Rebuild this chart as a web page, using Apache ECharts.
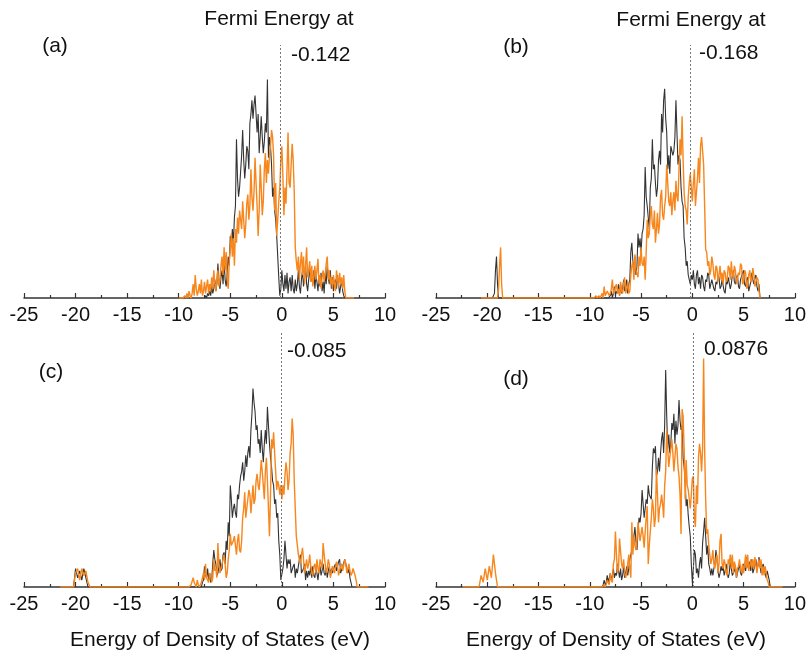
<!DOCTYPE html>
<html>
<head>
<meta charset="utf-8">
<script src="https://cdn.jsdelivr.net/npm/echarts@6/dist/echarts.min.js"></script>
<style>html,body{margin:0;padding:0;background:#fff;}#chart{width:809px;height:654px;}</style>
</head>
<body>
<div id="chart"></div>
<script>
// Main band values are sampled every 0.1 eV from each series' start energy
const bandStep = 0.1;
const xTicks = [-25, -20, -15, -10, -5, 0, 5, 10];
const fermiLevels = [-0.142, -0.168, -0.085, 0.0876];
const fermiLabels = ['-0.142', '-0.168', '-0.085', '0.0876'];
const panelLabels = ['(a)', '(b)', '(c)', '(d)'];

// (a)
const aBlackStart = -7.5;
const aBlack = [0,1,0,2,1,
  3,1,5,2,4,8,3,6,15,7,
  4,9,12,6,16,8,5,11,18,14,
  27,22,30,24,35,40,69,52,44,48,
  55,62,73,60,52,58,66,64,56,76,
  80,86,78,84,88,80,72,80,63,70,
  79,70,63,68,76,72,95,61,70,66,
  58,44,48,38,34,27,18,9,1,4,
  12,6,3,10,4,11,2,7,9,3,
  10,4,2,8,3,6,12,5,2,8,
  12,5,9,14,6,3,8,13,7,10,
  6,12,4,10,7,3,9,5,11,3,
  7,2,11,6,14,9,6,12,4,9,
  3,7,8,4,10,6,2,5,8,3,
  1,0];
const aOrangeStart = -10.0;
const aOrange = [0,0,0,0,0,0,1,0,2,0,
  3,1,0,2,6,1,10,4,1,3,
  6,2,8,1,3,7,2,5,8,2,
  6,3,9,4,12,6,3,8,12,5,
  8,14,18,10,22,12,20,8,4,16,
  21,28,18,26,14,30,24,35,28,38,
  38,30,42,34,26,32,41,45,34,40,
  56,44,38,46,61,50,40,27,38,58,
  48,36,42,56,63,50,60,54,62,66,
  73,70,62,38,50,27,34,42,48,60,
  66,53,36,48,41,56,72,50,48,58,
  67,60,46,22,16,12,18,8,15,20,
  10,18,6,14,22,9,12,16,7,14,
  5,10,14,8,12,17,6,10,4,9,
  12,7,10,15,18,8,12,6,9,4,
  10,6,3,12,8,5,11,6,9,4,
  10,3,0,0,0,0,0,0,0,0,
  0];

// (b)
const bBlackCoreE = [-19.5, -19.3, -19.2, -19.1, -19.0, -18.9];
const bBlackCore = [0, 2, 12, 18, 6, 0];
const bBlackStart = -8.2;
const bBlack = [0,0,1,3,0,2,5,1,3,2,6,1,
  6,2,4,8,3,5,8,2,6,8,
  20,24,16,12,18,10,14,28,22,26,
  20,28,30,36,57,44,40,35,30,48,
  52,69,56,58,50,44,48,60,64,58,
  80,72,86,91,78,72,56,62,54,66,
  66,62,64,70,86,72,58,62,60,48,
  42,40,26,22,14,16,10,8,6,10,
  8,12,6,4,10,12,6,9,4,10,
  9,5,3,8,7,11,10,4,6,8,
  8,4,3,7,6,10,9,4,5,8,
  8,3,2,7,6,9,9,4,6,10,
  12,7,6,9,10,5,4,8,8,11,
  12,6,5,8,9,3,3,7,11,8,
  6,9,10,5,3,6,0];
const bOrangeCoreE = [-20.6, -19.0, -18.9, -18.8, -18.7, -18.6, -18.5];
const bOrangeCore = [0, 0, 4, 14, 22, 6, 0];
const bOrangeStart = -10.0;
const bOrange = [0,0,0,0,0,0,1,0,0,1,
  0,1,2,0,5,1,1,3,3,1,
  2,4,8,2,3,5,6,2,4,1,
  7,3,2,6,9,2,4,7,2,3,
  10,14,16,8,19,12,12,9,18,14,
  22,15,14,18,8,20,34,26,28,36,
  40,32,30,38,24,30,37,28,32,44,
  47,36,34,40,44,58,58,42,40,46,
  36,42,46,38,51,44,42,56,69,62,
  79,60,46,40,38,32,44,50,54,48,
  42,50,56,40,46,52,61,50,66,70,
  70,58,40,21,20,14,16,10,12,18,
  15,10,8,14,13,7,10,14,8,11,
  6,12,11,7,8,14,13,8,16,10,
  9,14,12,6,6,11,10,15,14,6,
  7,12,11,4,5,10,12,7,8,13,
  10,5,5,9,8,3,0];

// (c)
const cBlackCoreE = [-20.2, -20.0, -19.8, -19.6, -19.4, -19.2, -19.0, -18.8];
const cBlackCore = [0, 8, 4, 7, 3, 8, 4, 0];
const cBlackStart = -7.8;
const cBlack = [0,2,3,9,5,4,8,3,
  6,2,3,10,16,12,10,5,6,9,
  12,7,8,14,15,10,20,16,28,22,
  44,38,30,34,36,32,30,40,38,44,
  48,50,54,46,50,57,52,58,61,56,
  68,75,86,80,76,68,70,62,64,58,
  68,60,54,62,68,62,78,70,62,56,
  52,46,44,36,38,30,32,20,14,3,
  3,8,12,20,14,8,12,10,12,6,
  6,9,10,4,8,6,9,12,14,6,
  6,8,10,3,7,4,7,5,9,4,
  9,5,4,8,6,3,7,9,5,7,
  10,6,5,8,4,7,9,5,8,6,
  6,9,10,7,7,11,12,6,6,9,
  9,12,10,8,6,8,4,2,0];
const cOrangeCoreE = [-21.5, -20.2, -20.0, -19.8, -19.6, -19.4, -19.2, -19.0, -18.8, -18.6];
const cOrangeCore = [0, 0, 6, 8, 3, 8, 5, 7, 2, 0];
const cOrangeStart = -10.0;
const cOrange = [0,0,0,0,0,0,0,0,0,0,
  0,0,1,1,4,2,1,0,3,1,
  0,1,2,4,6,3,10,4,4,2,
  6,5,2,4,12,7,8,4,19,10,
  6,8,10,12,14,10,4,6,12,16,
  23,18,18,20,22,18,14,20,23,16,
  15,20,30,34,41,30,34,38,42,40,
  32,38,44,36,38,46,49,44,42,48,
  55,50,44,38,50,56,46,34,22,40,
  64,60,67,58,50,42,46,44,40,44,
  38,44,40,48,54,50,42,46,58,62,
  73,66,46,34,22,18,14,12,10,14,
  17,12,6,9,12,8,10,14,9,6,
  5,9,10,6,12,8,6,12,10,8,
  19,14,10,6,8,12,10,4,6,9,
  9,6,6,11,9,5,7,9,10,7,
  7,12,10,6,8,10,7,5,6,8,
  8,5,3,0,0,0,0,0,0,0,
  0,0,0,0,0];

// (d)
const dBlackStart = -8.8;
const dBlack = [0,1,3,1,2,5,2,4,
  6,3,5,8,4,6,5,10,7,4,
  8,3,5,9,4,6,9,5,8,12,
  12,16,18,22,26,20,16,24,30,28,
  32,42,36,30,34,38,36,44,40,39,
  38,52,60,58,61,48,50,56,50,58,
  64,67,58,70,94,74,60,66,58,62,
  71,68,75,62,72,66,70,81,72,68,
  70,56,52,46,35,38,31,26,22,10,
  2,8,16,14,6,8,4,10,13,8,
  19,24,30,22,14,18,10,8,5,8,
  5,8,10,16,12,7,4,6,9,7,
  9,5,7,10,6,4,6,11,8,5,
  5,7,9,4,6,8,10,6,5,8,
  10,8,7,13,9,8,11,7,12,6,
  6,9,12,8,9,13,10,6,8,10,
  10,6,4,7,7,3,0];
const dOrangeCoreE = [-22.4, -20.8, -20.6, -20.4, -20.2, -20.0, -19.8, -19.6, -19.4, -19.2, -19.0];
const dOrangeCore = [0, 0, 5, 2, 8, 3, 9, 4, 14, 6, 0];
const dOrangeStart = -10.0;
const dOrange = [0,0,0,0,0,0,0,0,0,0,
  0,0,0,0,1,0,1,3,2,1,
  6,3,2,10,12,24,14,6,8,21,
  21,10,8,12,6,4,6,10,14,8,
  4,28,14,22,18,16,20,28,24,20,
  20,26,22,17,24,30,35,10,18,24,
  30,38,34,26,30,51,40,28,34,36,
  40,36,30,44,50,68,60,52,56,60,
  64,58,50,56,62,60,52,48,40,23,
  77,74,60,38,55,44,42,38,34,40,
  47,48,30,26,44,36,56,62,58,50,
  60,99,60,38,23,25,18,14,10,12,
  16,10,8,12,14,6,10,20,23,10,
  8,12,10,6,5,12,10,14,8,14,
  6,11,9,4,8,9,12,8,6,10,
  6,10,14,8,14,7,9,12,8,12,
  8,13,10,6,10,12,8,12,5,9,
  5,9,6,3,2,0,0,0,0,0,
  0,0,0,0,0,0,0,0,0];

function band(start, vals) {
  return vals.map((v, i) => [+(start + i * bandStep).toFixed(2), v]);
}
function core(es, vals) {
  return es.map((e, i) => [e, vals[i]]);
}

const panels = [
  { black: band(aBlackStart, aBlack), orange: band(aOrangeStart, aOrange) },
  { black: core(bBlackCoreE, bBlackCore).concat(band(bBlackStart, bBlack)),
    orange: core(bOrangeCoreE, bOrangeCore).concat(band(bOrangeStart, bOrange)) },
  { black: core(cBlackCoreE, cBlackCore).concat(band(cBlackStart, cBlack)),
    orange: core(cOrangeCoreE, cOrangeCore).concat(band(cOrangeStart, cOrange)) },
  { black: band(dBlackStart, dBlack),
    orange: core(dOrangeCoreE, dOrangeCore).concat(band(dOrangeStart, dOrange)) }
];

const grids = [
  { left: 24, right: 424, top: 45, bottom: 356 },
  { left: 436, right: 12, top: 45, bottom: 356 },
  { left: 24, right: 424, top: 333, bottom: 67 },
  { left: 436, right: 12, top: 333, bottom: 67 }
];

const FONT = 'Liberation Sans, Arial, sans-serif';
const BLACK = '#333333';
const ORANGE = '#f7861c';

const xAxes = grids.map((g, i) => ({
  type: 'value', gridIndex: i, min: xTicks[0], max: xTicks[xTicks.length - 1], interval: 5,
  axisLine: { show: true, onZero: false, lineStyle: { color: '#333', width: 1.5 } },
  axisTick: { show: true, inside: true, length: 5, lineStyle: { color: '#333', width: 1.2 } },
  minorTick: { show: true, splitNumber: 2, length: 3, lineStyle: { color: '#333', width: 1.2 } },
  axisLabel: { fontSize: 20, color: '#111', fontFamily: FONT, margin: 7 },
  splitLine: { show: false }
}));
const yAxes = grids.map((g, i) => ({ type: 'value', gridIndex: i, min: 0, max: 110, show: false }));

const series = [];
panels.forEach((p, i) => {
  series.push({
    type: 'line', xAxisIndex: i, yAxisIndex: i, data: p.black, showSymbol: false, symbol: 'none',
    lineStyle: { color: BLACK, width: 1.1 }, animation: false, z: 2,
    markLine: {
      symbol: 'none', silent: true, animation: false, label: { show: false },
      lineStyle: { color: '#777', type: [2, 2], width: 1 },
      data: [{ xAxis: fermiLevels[i] }]
    }
  });
  series.push({
    type: 'line', xAxisIndex: i, yAxisIndex: i, data: p.orange, showSymbol: false, symbol: 'none',
    lineStyle: { color: ORANGE, width: 1.4 }, animation: false, z: 3
  });
});

function txt(x, y, s, align) {
  return { type: 'text', x: x, y: y, style: { text: s, fontSize: 21, fontFamily: FONT, fill: '#111', align: align || 'center', verticalAlign: 'middle' } };
}

const graphics = [
  txt(279, 19, 'Fermi Energy at'),
  txt(691, 20, 'Fermi Energy at'),
  txt(55, 46, panelLabels[0]),
  txt(516, 47, panelLabels[1]),
  txt(51, 372, panelLabels[2]),
  txt(516, 379, panelLabels[3]),
  txt(291, 55, fermiLabels[0], 'left'),
  txt(699, 53, fermiLabels[1], 'left'),
  txt(287, 351, fermiLabels[2], 'left'),
  txt(704, 349, fermiLabels[3], 'left'),
  txt(220, 640, 'Energy of Density of States (eV)'),
  txt(616, 640, 'Energy of Density of States (eV)')
];

const chart = echarts.init(document.getElementById('chart'), null, { renderer: 'canvas' });
chart.setOption({
  backgroundColor: '#fff',
  animation: false,
  grid: grids,
  xAxis: xAxes,
  yAxis: yAxes,
  series: series,
  graphic: graphics
});
</script>
</body>
</html>
